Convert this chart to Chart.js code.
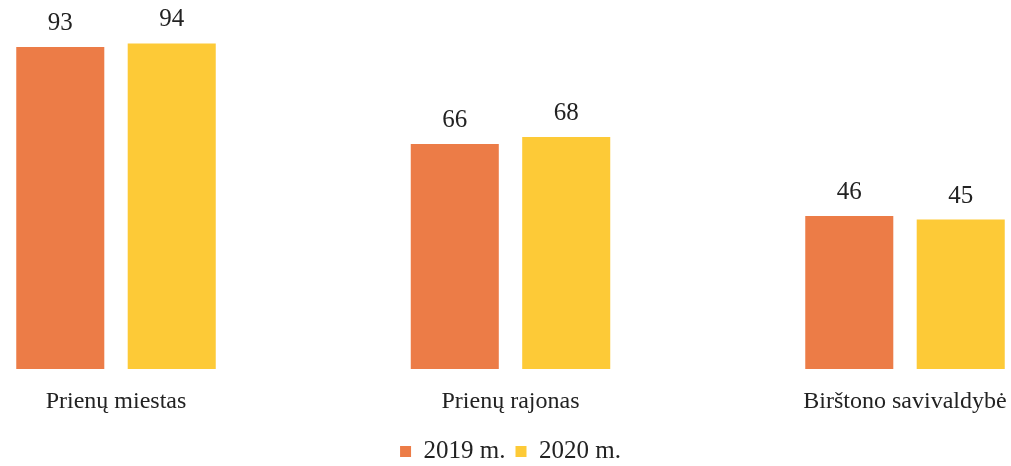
<!DOCTYPE html>
<html>
<head>
<meta charset="utf-8">
<script src="https://cdn.jsdelivr.net/npm/chart.js@4/dist/chart.umd.min.js"></script>
<style>
  html, body { margin: 0; padding: 0; background: #fff; }
  #wrap { width: 1011px; height: 466px; position: relative; }
</style>
</head>
<body>
<div id="wrap"><canvas id="chart"></canvas></div>
<script>
// duomenys
const categories = ['Prienų miestas', 'Prienų rajonas', 'Birštono savivaldybė'];
const seriesLabels = ['2019 m.', '2020 m.'];
const values2019 = [93, 66, 46];
const values2020 = [94, 68, 45];

const colors = ['#EC7C47', '#FDCA37'];
const serif = '"Liberation Serif", "Times New Roman", serif';
const yMin = 3.4;

// reikšmės virš stulpelių
const valueLabels = {
  id: 'valueLabels',
  afterDatasetsDraw(chart) {
    const ctx = chart.ctx;
    ctx.save();
    ctx.font = '25px ' + serif;
    ctx.fillStyle = '#222';
    ctx.textAlign = 'center';
    ctx.textBaseline = 'alphabetic';
    chart.data.datasets.forEach((ds, i) => {
      chart.getDatasetMeta(i).data.forEach((bar, j) => {
        ctx.fillText(ds.data[j], bar.x, bar.y - 17);
      });
    });
    ctx.restore();
  }
};

new Chart(document.getElementById('chart'), {
  type: 'bar',
  data: {
    labels: categories,
    datasets: [
      { label: seriesLabels[0], data: values2019, backgroundColor: colors[0], base: yMin, clip: false },
      { label: seriesLabels[1], data: values2020, backgroundColor: colors[1], base: yMin, clip: false }
    ]
  },
  options: {
    responsive: true,
    maintainAspectRatio: false,
    animation: false,
    categoryPercentage: 0.565,
    barPercentage: 0.79,
    layout: { padding: { left: 116, right: 106, top: 0, bottom: 0 } },
    scales: {
      x: {
        offset: false,
        grid: { display: false, drawTicks: false },
        border: { display: false },
        ticks: {
          padding: 18,
          maxRotation: 0,
          autoSkip: false,
          color: '#222',
          font: { family: serif, size: 24 }
        },
        afterFit: (scale) => {
          scale.height = 60;
          scale.paddingLeft = 0;
          scale.paddingRight = 0;
        }
      },
      y: {
        display: false,
        min: yMin,
        max: 106.1
      }
    },
    plugins: {
      legend: {
        position: 'bottom',
        maxHeight: 37,
        labels: {
          boxWidth: 11,
          boxHeight: 11,
          padding: 10,
          color: '#222',
          font: { family: serif, size: 25 }
        }
      },
      tooltip: { enabled: false }
    }
  },
  plugins: [valueLabels]
});
</script>
</body>
</html>
